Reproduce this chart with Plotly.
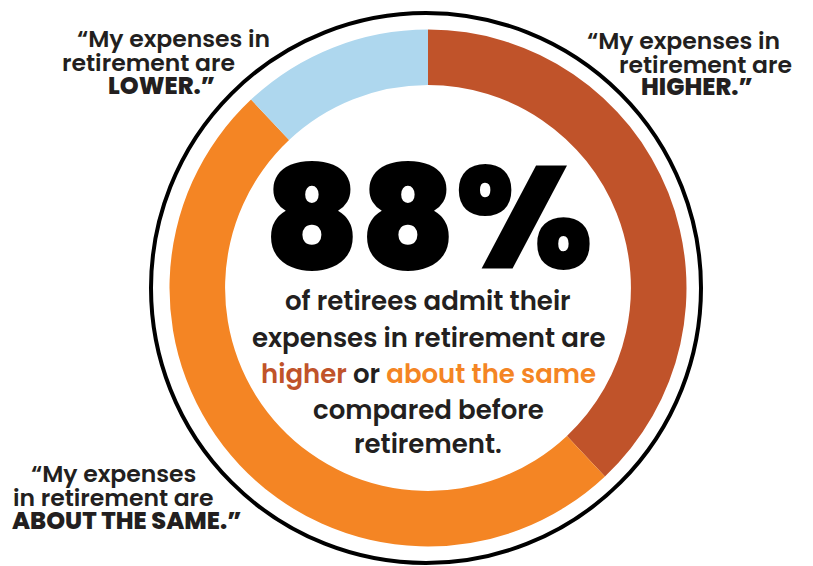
import plotly.graph_objects as go

# Survey answers: share of retirees by how their expenses changed
categories = ["Higher", "About the same", "Lower"]
shares = [38, 50, 12]
slice_colors = ["#C0532A", "#F48524", "#AED7EE"]

headline = "88%"
body_lines = [
    "of retirees admit their",
    "expenses in retirement are",
    "<span style='color:#C0532A'>higher</span> or <span style='color:#F48524'>about the same</span>",
    "compared before",
    "retirement.",
]
# (text, is_bold) for each line of the three quotes
quote_higher = [("“My expenses in", False), ("retirement are", False), ("HIGHER.”", True)]
quote_lower = [("“My expenses in", False), ("retirement are", False), ("LOWER.”", True)]
quote_same = [("“My expenses", False), ("in retirement are", False), ("ABOUT THE SAME.”", True)]

W, H = 813, 566
TEXT = "#231F20"
FAMILY = "Poppins, Inter, 'Open Sans', sans-serif"


def fx(px):
    return px / W


def fy(py):
    return 1 - py / H


cx, cy, R = 428, 288, 258.5

fig = go.Figure(
    go.Pie(
        labels=categories,
        values=shares,
        marker=dict(colors=slice_colors, line=dict(width=0)),
        hole=0.785,
        sort=False,
        direction="clockwise",
        rotation=0,
        textinfo="none",
        hoverinfo="label+percent",
        domain=dict(x=[fx(cx - R), fx(cx + R)], y=[fy(cy + R), fy(cy - R)]),
        showlegend=False,
    )
)

# thin black ring around the donut
ring_cx, ring_cy, ring_r = 426, 288, 275
fig.add_shape(
    type="circle", xref="paper", yref="paper",
    x0=fx(ring_cx - ring_r), x1=fx(ring_cx + ring_r),
    y0=fy(ring_cy + ring_r), y1=fy(ring_cy - ring_r),
    line=dict(color="black", width=4), layer="above",
)

annotations = []


def add_text(txt, x, y, size, weight=600, color=TEXT):
    annotations.append(dict(
        text=txt, x=fx(x), y=fy(y), xref="paper", yref="paper",
        xanchor="center", yanchor="middle", showarrow=False,
        font=dict(family=FAMILY, size=size, color=color, weight=weight),
    ))


add_text(headline, 428, 218, 146, weight=900, color="black")

for line, y in zip(body_lines, [301, 338, 374, 410, 444]):
    add_text(line, 428, y, 26)


def add_quote(lines, xs, ys):
    for (txt, bold), x, y in zip(lines, xs, ys):
        add_text(txt, x, y, 24 if bold else 23.5, weight=800 if bold else 600)


add_quote(quote_lower, [173, 148, 161], [38, 62, 86])
add_quote(quote_higher, [683, 705, 697], [41, 64, 87])
add_quote(quote_same, [113, 114, 126], [473, 497, 520])

fig.update_layout(
    width=W, height=H,
    margin=dict(l=0, r=0, t=0, b=0),
    paper_bgcolor="white", plot_bgcolor="white",
    annotations=annotations,
)

fig.write_html("out.html")
